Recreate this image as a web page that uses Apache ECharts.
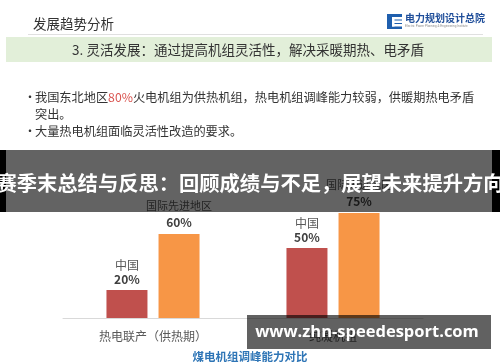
<!DOCTYPE html>
<html><head><meta charset="utf-8">
<script src="https://cdn.jsdelivr.net/npm/echarts@6/dist/echarts.min.js"></script>
<style>html,body{margin:0;padding:0;background:#fff}#c{width:500px;height:362px}</style>
</head><body><div id="c"></div>
<script>
const categories = ['热电联产（供热期）', '纯凝机组'];
const seriesNames = ['中国', '国际先进地区'];
const chinaValues = [20, 50];
const intlValues = [60, 75];
const chartTitle = '煤电机组调峰能力对比';
const slideTitle = '发展趋势分析';
const sectionHeading = '3. 灵活发展：通过提高机组灵活性，解决采暖期热、电矛盾';
const bullet1a = '我国东北地区';
const bullet1b = '80%';
const bullet1c = '火电机组为供热机组，热电机组调峰能力较弱，供暖期热电矛盾';
const bullet1d = '突出。';
const bullet2 = '大量热电机组面临灵活性改造的要求。';
const bannerText = '赛季末总结与反思：回顾成绩与不足，展望未来提升方向';
const watermark = 'www.zhn-speedesport.com';
const logoText = '电力规划设计总院';
const logoSub = 'Electric Power Planning & Engineering Institute';

const CJK = '"Noto Sans CJK SC", "Noto Sans", sans-serif';
const chart = echarts.init(document.getElementById('c'), null, {renderer: 'canvas'});

function labelFmt(nameSize, lh) {
  return {
    show: true, position: 'top',
    fontFamily: CJK,
    formatter: p => '{n|' + p.seriesName + '}\n{v|' + p.value + '%}',
    rich: {
      n: {color: '#595959', fontSize: nameSize, lineHeight: lh, fontFamily: CJK},
      v: {color: '#404040', fontSize: 12, fontWeight: 'bold', lineHeight: lh, fontFamily: CJK}
    }
  };
}

const option = {
  backgroundColor: '#ffffff',
  animation: false,
  title: {
    text: chartTitle, left: 'center', top: 346,
    textStyle: {color: '#2e75b6', fontSize: 11.5, fontWeight: 'bold', fontFamily: CJK}
  },
  grid: {left: 63, right: 77, top: 178, bottom: 44},
  xAxis: {
    type: 'category', data: categories,
    axisLine: {lineStyle: {color: '#d9d9d9'}},
    axisTick: {show: false},
    axisLabel: {color: '#595959', fontSize: 12, margin: 12, fontFamily: CJK}
  },
  yAxis: {type: 'value', min: 0, max: 100, show: false, splitLine: {show: false}},
  series: [
    {name: seriesNames[0], type: 'bar', data: chinaValues, barWidth: 41, barGap: '27%',
      itemStyle: {color: '#c0504d'}, label: Object.assign(labelFmt(12, 14), {distance: 4})},
    {name: seriesNames[1], type: 'bar', data: intlValues, barWidth: 41,
      itemStyle: {color: '#f79646'}, label: Object.assign(labelFmt(11, 17), {distance: 3})}
  ],
  graphic: [
    {type: 'text', z: 50, style: {text: slideTitle, x: 33, y: 24, fill: '#333', font: '13.5px ' + CJK, textVerticalAlign: 'middle'}},
    {type: 'rect', z: 50, shape: {x: 28, y: 34, width: 455, height: 1}, style: {fill: '#e0e0e0'}},
    {type: 'rect', z: 50, shape: {x: 387, y: 14, width: 15, height: 15}, style: {fill: '#1f5fae'}},
    {type: 'rect', z: 51, shape: {x: 392, y: 17, width: 10, height: 2.5}, style: {fill: '#fff'}},
    {type: 'rect', z: 51, shape: {x: 392, y: 20.5, width: 10, height: 2.5}, style: {fill: '#fff'}},
    {type: 'rect', z: 51, shape: {x: 392, y: 24, width: 10, height: 2.5}, style: {fill: '#fff'}},
    {type: 'rect', z: 51, shape: {x: 392, y: 17, width: 2.5, height: 9.5}, style: {fill: '#fff'}},
    {type: 'text', z: 50, style: {text: logoText, x: 405, y: 18.5, fill: '#1f4e9a', font: 'bold 10px ' + CJK, textVerticalAlign: 'middle'}},
    {type: 'text', z: 50, style: {text: logoSub, x: 405, y: 26, fill: '#888', font: '3px sans-serif', textVerticalAlign: 'middle'}},
    {type: 'rect', z: 50, shape: {x: 6, y: 37, width: 486, height: 25}, style: {fill: '#e2efd9'}},
    {type: 'text', z: 51, style: {text: sectionHeading, x: 248, y: 50, fill: '#333', font: '13.5px ' + CJK, textAlign: 'center', textVerticalAlign: 'middle'}},
    {type: 'text', z: 50, style: {text: '•', x: 24, y: 97, fill: '#333', font: '12px ' + CJK, textVerticalAlign: 'middle'}},
    {type: 'text', z: 50, style: {text: '•', x: 24, y: 131, fill: '#333', font: '12px ' + CJK, textVerticalAlign: 'middle'}},
    {type: 'text', z: 50, style: {
      text: '{a|' + bullet1a + '}{r|' + bullet1b + '}{a|' + bullet1c + '}', x: 35, y: 97, textVerticalAlign: 'middle',
      rich: {a: {fill: '#333', fontSize: 12.2, fontFamily: CJK}, r: {fill: '#d9534f', fontSize: 12.2, fontFamily: CJK}}
    }},
    {type: 'text', z: 50, style: {text: bullet1d, x: 35, y: 114, fill: '#333', font: '12.2px ' + CJK, textVerticalAlign: 'middle'}},
    {type: 'text', z: 50, style: {text: bullet2, x: 35, y: 131, fill: '#333', font: '12.2px ' + CJK, textVerticalAlign: 'middle'}},
    {type: 'rect', z: 100, shape: {x: 0, y: 150, width: 6, height: 62}, style: {fill: '#000'}},
    {type: 'rect', z: 100, shape: {x: 492, y: 150, width: 8, height: 62}, style: {fill: '#000'}},
    {type: 'rect', z: 100, shape: {x: 6, y: 150, width: 486, height: 62}, style: {fill: 'rgba(0,0,0,0.61)'}},
    {type: 'text', z: 101, style: {text: bannerText, x: 250, y: 183, fill: '#fff', font: 'bold 20.3px ' + CJK, textAlign: 'center', textVerticalAlign: 'middle'}},
    {type: 'rect', z: 100, shape: {x: 247, y: 315, width: 244, height: 34}, style: {fill: 'rgba(0,0,0,0.62)'}},
    {type: 'text', z: 101, style: {text: watermark, x: 367, y: 332, fill: '#fff', font: 'bold 16.5px "Open Sans", "Noto Sans", sans-serif', textAlign: 'center', textVerticalAlign: 'middle'}}
  ]
};
chart.setOption(option);
</script></body></html>
